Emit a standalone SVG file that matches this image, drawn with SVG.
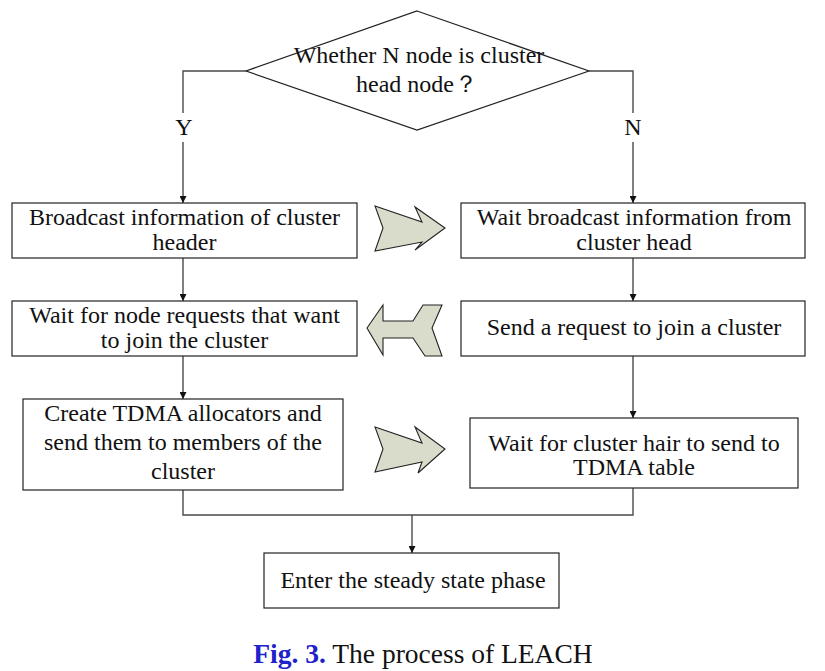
<svg xmlns="http://www.w3.org/2000/svg" width="825" height="671" viewBox="0 0 825 671" font-family="'Liberation Serif', 'Times New Roman', serif">
<defs>
<style>
.box{fill:#fff;stroke:#222;stroke-width:1.2}
.t{font-family:'Liberation Serif','Times New Roman',serif;font-size:24px;fill:#111;text-anchor:middle}
.c{fill:none;stroke:#4a4a4a;stroke-width:1.4}
.blk{fill:#d9dcca;stroke:#222;stroke-width:1.1;stroke-linejoin:miter}
</style>
<marker id="ah" viewBox="0 0 10 10" refX="10" refY="5" markerWidth="7" markerHeight="7" markerUnits="userSpaceOnUse" orient="auto">
<path d="M0,0 L10,5 L0,10 z" fill="#111"/>
</marker>
</defs>
<rect width="825" height="671" fill="#fff"/>

<g id="decision">
<polygon class="box" points="417,11 589,71 417,130 246,71"/>
<text class="t" x="419" y="63">Whether N node is cluster</text>
<text class="t" x="417" y="92">head node？</text>
</g>

<g id="connectors">
<polyline class="c" points="246,71 183,71 183,113"/>
<line class="c" x1="183" y1="142" x2="183" y2="203" marker-end="url(#ah)"/>
<polyline class="c" points="589,71 633,71 633,113"/>
<line class="c" x1="633" y1="142" x2="633" y2="203" marker-end="url(#ah)"/>
<line class="c" x1="183" y1="258" x2="183" y2="301" marker-end="url(#ah)"/>
<line class="c" x1="183" y1="356" x2="183" y2="399" marker-end="url(#ah)"/>
<line class="c" x1="633" y1="258" x2="633" y2="301" marker-end="url(#ah)"/>
<line class="c" x1="633" y1="356" x2="633" y2="418" marker-end="url(#ah)"/>
<polyline class="c" points="183,490 183,515 633,515 633,488"/>
<line class="c" x1="412" y1="515" x2="412" y2="553" marker-end="url(#ah)"/>
<text class="t" x="184" y="135" font-size="22">Y</text>
<text class="t" x="633" y="135" font-size="20">N</text>
</g>

<g id="broadcast">
<rect class="box" x="12" y="203" width="345" height="55"/>
<text class="t" x="184.5" y="225">Broadcast information of cluster</text>
<text class="t" x="184.5" y="250">header</text>
</g>

<g id="waitBroadcast">
<rect class="box" x="461" y="203" width="344" height="55"/>
<text class="t" x="634" y="225">Wait broadcast information from</text>
<text class="t" x="634" y="250">cluster head</text>
</g>

<g id="waitRequests">
<rect class="box" x="12" y="301" width="345" height="55"/>
<text class="t" x="184.5" y="323">Wait for node requests that want</text>
<text class="t" x="184.5" y="348">to join the cluster</text>
</g>

<g id="sendRequest">
<rect class="box" x="461" y="301" width="344" height="55"/>
<text class="t" x="634" y="335">Send a request to join a cluster</text>
</g>

<g id="createTDMA">
<rect class="box" x="23" y="399" width="320" height="91"/>
<text class="t" x="183" y="421">Create TDMA allocators and</text>
<text class="t" x="183" y="450">send them to members of the</text>
<text class="t" x="183" y="479">cluster</text>
</g>

<g id="waitTDMA">
<rect class="box" x="470" y="418" width="328" height="70"/>
<text class="t" x="634" y="451">Wait for cluster hair to send to</text>
<text class="t" x="634" y="475">TDMA table</text>
</g>

<g id="steady">
<rect class="box" x="264" y="553" width="295" height="55"/>
<text class="t" x="413" y="588">Enter the steady state phase</text>
</g>

<g id="blockArrows">
<polygon class="blk" points="375,206 422,222 415,207 445,228 415,250 422,242 375,251 383,228"/>
<polygon class="blk" points="367,328 383,305 383,321 413,321 423,305 442,305 432,328 442,356 425,356 413,338 383,338 383,355"/>
<polygon class="blk" points="375,427 422,443 415,427 445,449 418,473 422,462 375,472 383,449"/>
</g>

<g id="caption">
<text x="423" y="663" font-size="27.5" text-anchor="middle" fill="#111"><tspan font-weight="bold" fill="#2020cc">Fig. 3.</tspan> The process of LEACH</text>
</g>
</svg>
